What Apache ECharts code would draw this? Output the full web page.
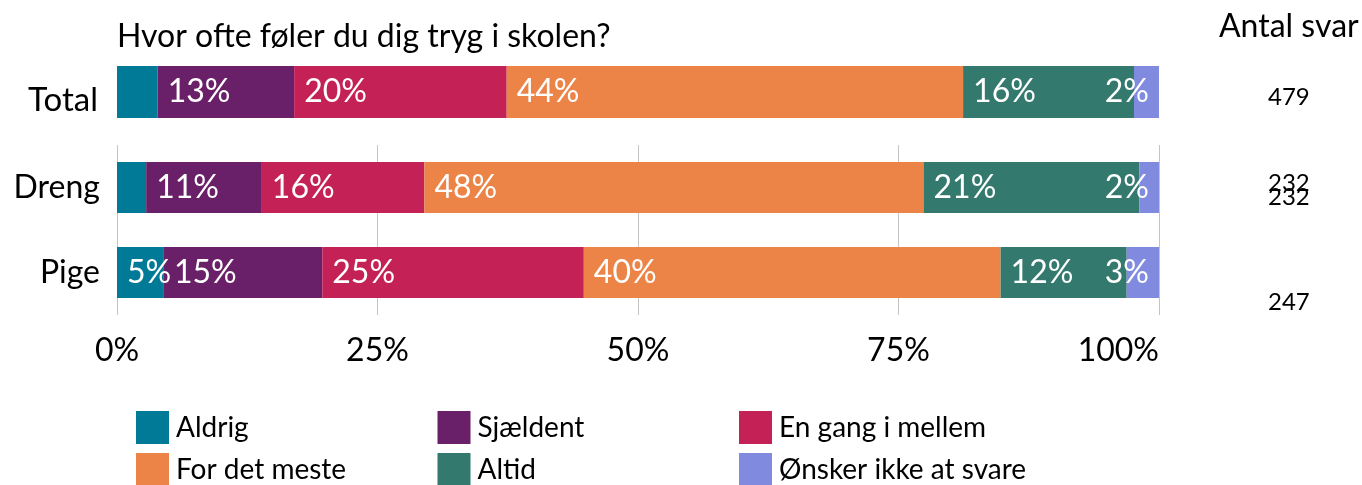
<!DOCTYPE html>
<html>
<head>
<meta charset="utf-8">
<script src="https://cdn.jsdelivr.net/npm/echarts@6/dist/echarts.min.js"></script>
<style>
  html, body { margin: 0; padding: 0; background: #fff; }
  #chart { width: 1362px; height: 485px; }
</style>
</head>
<body>
<div id="chart"></div>
<script>
// svarkategorier
const answers = ['Aldrig', 'Sjældent', 'En gang i mellem', 'For det meste', 'Altid', 'Ønsker ikke at svare']
const colors = ['#007A96', '#6A2068', '#C42157', '#EB8446', '#33796D', '#808BE0']

// procent pr. svar (Total / Dreng / Pige)
const totalValues = [3.9, 13.1, 20.4, 43.8, 16.4, 2.4]
const drengValues = [2.8, 11.1, 15.6, 47.9, 20.7, 1.9]
const pigeValues = [4.5, 15.2, 25.1, 40.0, 12.1, 3.1]

const groups = ['Dreng', 'Pige']
const xTicks = [0, 25, 50, 75, 100]
const counts = ['479', '232', '232', '247']

const FONT = 'Lato'

let myChart = echarts.init(document.getElementById('chart'))

function labelFor(i) {
  const last = i === answers.length - 1
  return {
    show: true,
    position: last ? 'insideRight' : 'insideLeft',
    distance: 10,
    color: '#fff',
    fontFamily: FONT,
    fontSize: 32,
    formatter: p => {
      const v = Math.round(p.value)
      if (!last && v < 5) return ''  // smaa andele vises ikke
      return v + '%'
    }
  }
}

let series = []
answers.forEach((name, i) => {
  series.push({
    name: name,
    type: 'bar',
    stack: 'total',
    xAxisIndex: 0,
    yAxisIndex: 0,
    barWidth: 52,
    itemStyle: { color: colors[i] },
    label: labelFor(i),
    data: [totalValues[i]]
  })
  series.push({
    name: name,
    type: 'bar',
    stack: 'groups',
    xAxisIndex: 1,
    yAxisIndex: 1,
    barWidth: 51,
    itemStyle: { color: colors[i] },
    label: labelFor(i),
    data: [drengValues[i], pigeValues[i]]
  })
})

// legenden i 3 kolonner x 2 raekker
let legends = answers.map((name, i) => ({
  data: [name],
  left: 136 + (i % 3) * 301.5,
  top: 411 + Math.floor(i / 3) * 42,
  padding: 0,
  itemWidth: 33,
  itemHeight: 33,
  icon: 'rect',
  textStyle: { fontFamily: FONT, fontSize: 28, color: '#000', padding: [6, 0, 0, 2] }
}))

function countText(txt, y) {
  return {
    type: 'text', x: 1268, y: y,
    style: { text: txt, fontFamily: FONT, fontSize: 24, fill: '#000', align: 'left', verticalAlign: 'middle' }
  }
}

let option = {
  animation: false,
  textStyle: { fontFamily: FONT },
  title: {
    text: 'Hvor ofte føler du dig tryg i skolen?',
    left: 112,
    top: 16,
    textStyle: { fontFamily: FONT, fontSize: 32, fontWeight: 'normal', color: '#000' }
  },
  legend: legends,
  grid: [
    { left: 117, right: 203, top: 49.5, height: 85 },
    { left: 117, right: 203, top: 145, height: 170 }
  ],
  xAxis: [
    {
      gridIndex: 0, type: 'value', min: 0, max: 100, interval: 25,
      axisLabel: { show: false }, splitLine: { show: false },
      axisLine: { show: false }, axisTick: { show: false }
    },
    {
      gridIndex: 1, type: 'value', min: xTicks[0], max: xTicks[xTicks.length - 1], interval: 25,
      axisLabel: { fontFamily: FONT, fontSize: 32, color: '#000', margin: 20, formatter: '{value}%', alignMaxLabel: 'right' },
      splitLine: { show: true, lineStyle: { color: '#c4c4c4', width: 1 } },
      axisLine: { show: false }, axisTick: { show: false }
    }
  ],
  yAxis: [
    {
      gridIndex: 0, type: 'category', data: ['Total'],
      axisLine: { show: false }, axisTick: { show: false },
      axisLabel: {
        margin: 19,
        formatter: v => '{t|' + v + '}',
        rich: { t: { fontFamily: FONT, fontSize: 33, color: '#000', padding: [17, 0, 0, 0] } }
      }
    },
    {
      gridIndex: 1, type: 'category', data: groups, inverse: true,
      axisLine: { show: false }, axisTick: { show: false },
      axisLabel: { fontFamily: FONT, fontSize: 32, color: '#000', margin: 17 }
    }
  ],
  graphic: [
    { type: 'text', x: 1219, y: 27, style: { text: 'Antal svar', fontFamily: FONT, fontSize: 32, fill: '#000', verticalAlign: 'middle' } },
    countText(counts[0], 97),
    countText(counts[1], 183),
    countText(counts[2], 197),
    countText(counts[3], 302)
  ],
  series: series
}

myChart.setOption(option)
</script>
</body>
</html>
